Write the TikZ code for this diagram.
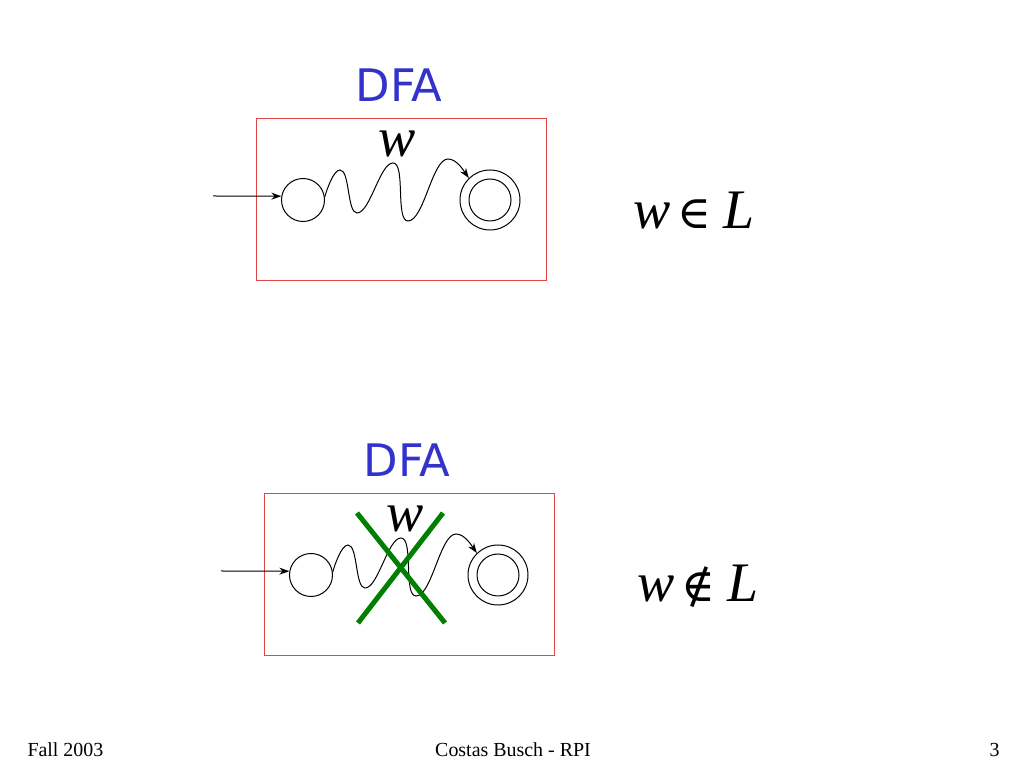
\documentclass[tikz,border=0pt]{standalone}
\usepackage{fontspec}
\setmainfont{Liberation Serif}
\newfontfamily\dfafont{DejaVu Sans}
\newfontfamily\opfont{DejaVu Serif}
\usetikzlibrary{arrows.meta}
\definecolor{dfablue}{RGB}{51,51,204}
\definecolor{boxred}{RGB}{228,70,70}
\definecolor{crossgreen}{RGB}{0,128,0}
\begin{document}
\begin{tikzpicture}[x=1bp, y=1bp, line width=1bp,
                    >={Stealth[length=10bp, width=7bp]},
                    state/.style={circle, draw, minimum size=43bp, inner sep=0pt},
                    accept/.style={circle, draw, minimum size=60bp, inner sep=0pt,
                      path picture={\draw (path picture bounding box.center) circle (21bp);}},
                    panel/.style={draw=boxred, minimum width=290bp, minimum height=162bp, inner sep=0pt},
                    title/.style={text=dfablue, font=\dfafont\fontsize{45}{45}\selectfont, inner sep=0pt, anchor=base},
                    word/.style={font=\fontsize{56}{56}\selectfont\itshape, inner sep=0pt, anchor=base},
                    wave/.style={looseness=0.55},
                    footer/.style={font=\fontsize{20}{20}\selectfont, inner sep=0pt}]
    \useasboundingbox (0,0) rectangle (1024,768);

    % top: w accepted
    \node[panel]  (boxa) at (401,568) {};
    \node[title]  (dfaa) at (399,666) {DFA};
    \node[state]  (q0a)  at (303,568) {};
    \node[accept] (fa)   at (490,568) {};
    \node[word]   (wa)   at (397,611) {w};
    \coordinate (ina) at (213,572);
    \draw[->] (ina) -- (q0a.170);
    \draw[->, wave] (q0a.8) to[out=75, in=180] (340,598) to[out=0, in=180] (357,555)
        to[out=0, in=180] (393,605) to[out=0, in=180] (408,547)
        to[out=0, in=180] (448,609) to[out=0, in=125, looseness=0.8] (fa.134);
    \node[word, anchor=base west] (member) at (633,539)
        {w\hspace{7bp}{\opfont\upshape\fontsize{46}{46}\selectfont ∈}\hspace{12bp}L};

    % bottom: w rejected
    \begin{scope}[shift={(8,-375)}]
    \node[panel]  (boxb) at (401,568) {};
    \node[title]  (dfab) at (399,666) {DFA};
    \node[state]  (q0b)  at (303,568) {};
    \node[accept] (fb)   at (490,568) {};
    \node[word]   (wb)   at (397,611) {w};
    \coordinate (inb) at (213,572);
    \draw[->] (inb) -- (q0b.170);
    \draw[->, wave] (q0b.8) to[out=75, in=180] (340,598) to[out=0, in=180] (357,555)
        to[out=0, in=180] (393,605) to[out=0, in=180] (408,547)
        to[out=0, in=180] (448,609) to[out=0, in=125, looseness=0.8] (fb.134);
    \draw[crossgreen, line width=5bp] (349,630) -- (437,520);
    \draw[crossgreen, line width=5bp] (435,630) -- (350,520);
    \node[word, anchor=base west] (notmember) at (629,541)
        {w\hspace{7bp}{\opfont\upshape\fontsize{46}{46}\selectfont ∉}\hspace{12bp}L};
    \end{scope}

    % footer
    \node[footer, anchor=base west] (fall)   at (27,11)   {Fall 2003};
    \node[footer, anchor=base]      (author) at (513,11)  {Costas Busch - RPI};
    \node[footer, anchor=base east] (page)   at (1000,11) {3};
\end{tikzpicture}
\end{document}
